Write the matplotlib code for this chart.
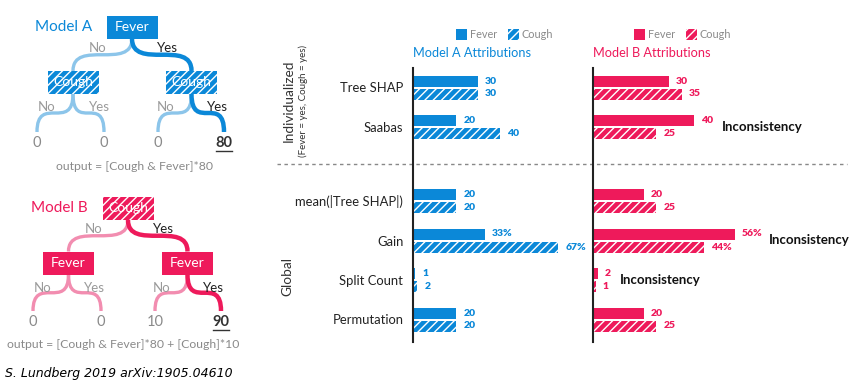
import numpy as np
import matplotlib
matplotlib.use('Agg')
import matplotlib.pyplot as plt
from matplotlib.patches import Rectangle
from matplotlib.path import Path
from matplotlib.patches import PathPatch

plt.rcParams['font.family'] = ['Lato', 'DejaVu Sans']
plt.rcParams['hatch.linewidth'] = 1.0

# ---- data ----
methods = ['Tree SHAP', 'Saabas', 'mean(|Tree SHAP|)', 'Gain', 'Split Count', 'Permutation']
a_fever = [30, 20, 20, 33, 1, 20]
a_cough = [30, 40, 20, 67, 2, 20]
b_fever = [30, 40, 20, 56, 2, 20]
b_cough = [35, 25, 25, 44, 1, 25]
suffix = ['', '', '', '%', '', '']
inconsistent = ['Saabas', 'Gain', 'Split Count']
leaves_a = ['0', '0', '0', '80']
leaves_b = ['0', '0', '10', '90']

BLUE = '#0b88d8'
PINK = '#ee1a5b'
LBLUE = '#8cc5ea'
LPINK = '#f28db0'
W, H = 858, 388

fig = plt.figure(figsize=(W / 100, H / 100), dpi=100)
ov = fig.add_axes([0, 0, 1, 1])
ov.set_xlim(0, W)
ov.set_ylim(H, 0)
ov.axis('off')


def box(x, y, w, h, color, label, hatched):
    if hatched:
        ov.add_patch(Rectangle((x - w / 2, y - h / 2), w, h, facecolor=color,
                               edgecolor='white', hatch='////', lw=0, zorder=3))
    else:
        ov.add_patch(Rectangle((x - w / 2, y - h / 2), w, h, facecolor=color,
                               lw=0, zorder=3))
    ov.text(x, y, label, color='white', fontsize=10, ha='center', va='center', zorder=4)


def branch(p, c, color, lw):
    # S-shaped connector: leaves vertically, turns horizontal, enters vertically
    px, py = p
    cx, cy = c
    d = cy - py
    verts = [(px, py), (px, py + d), (cx, py), (cx, cy)]
    codes = [Path.MOVETO, Path.CURVE4, Path.CURVE4, Path.CURVE4]
    ov.add_patch(PathPatch(Path(verts, codes), facecolor='none', edgecolor=color,
                           lw=lw, capstyle='butt', zorder=2))


def tree(title, root, kids, leafx, leafy, leaves, col, lcol, hatch_root, out_xy, formula):
    rx, ry = root
    bw, bh = 51, 23
    ov.text(rx - 97, ry, title, color=col, fontsize=11, va='center')
    box(rx, ry, bw, bh, col, 'Cough' if hatch_root else 'Fever', hatch_root)
    for i, (kx, ky) in enumerate(kids):
        dark = i == 1
        branch((rx, ry + bh / 2), (kx, ky - bh / 2), col if dark else lcol,
               3.2 if dark else 2.4)
        box(kx, ky, bw, bh, col, 'Fever' if hatch_root else 'Cough', not hatch_root)
        for j in range(2):
            lx = leafx[2 * i + j]
            d2 = dark and j == 1
            branch((kx, ky + bh / 2), (lx, leafy), col if d2 else lcol,
                   3.2 if d2 else 2.4)
            txt = leaves[2 * i + j]
            ov.text(lx, leafy + 11, txt, ha='center', va='center', fontsize=10.5,
                    color='#333333' if d2 else '#8a8a8a',
                    fontweight='bold' if d2 else 'normal')
            if d2:
                ov.plot([lx - 8, lx + 8], [leafy + 19, leafy + 19], color='#333333', lw=1)
        ov.text(kx - 26, ky + 24.5, 'No', ha='center', va='center', fontsize=9.5, color='#9a9a9a')
        ov.text(kx + 26, ky + 24.5, 'Yes', ha='center', va='center', fontsize=9.5,
                color='#222222' if dark else '#9a9a9a')
    ov.text(rx - 34, ry + 20.5, 'No', ha='center', va='center', fontsize=9.5, color='#9a9a9a')
    ov.text(rx + 35, ry + 20.5, 'Yes', ha='center', va='center', fontsize=9.5, color='#222222')
    ov.text(out_xy[0], out_xy[1], formula, ha='center', va='center', fontsize=8.8,
            color='#8a8a8a')


tree('Model A', (132, 27), [(73, 82.5), (191.5, 82.5)], [37, 104, 158, 224], 132,
     leaves_a, BLUE, LBLUE, False, (135, 166), 'output = [Cough & Fever]*80')
tree('Model B', (128, 208.5), [(68.5, 263), (187.5, 263)], [33, 101, 155, 221], 311,
     leaves_b, PINK, LPINK, True, (123, 345), 'output = [Cough & Fever]*80 + [Cough]*10')

ov.text(5, 373, 'S. Lundberg 2019 arXiv:1905.04610', fontsize=9, style='italic',
        family='DejaVu Sans', va='center', color='black')

# ---- bar panels ----
idx = np.arange(len(methods))
centers = 87.5 + 39.5 * idx + 34.5 * (idx >= 2)
top, bot = 68, 342


def panel(x0, width, scale, fever, cough, col, title, legx, mark):
    ax = fig.add_axes([x0 / W, 1 - bot / H, width / W, (bot - top) / H])
    ax.set_xlim(0, width / scale)
    ax.set_ylim(bot, top)
    ax.barh(centers - 6.5, fever, height=11, color=col, lw=0)
    ax.barh(centers + 6.5, cough, height=11, color=col, edgecolor='white', hatch='////', lw=0)
    for i in idx:
        ax.annotate(f'{fever[i]}{suffix[i]}', (fever[i], centers[i] - 6.5), xytext=(7, 0),
                    textcoords='offset pixels', va='center', fontsize=7.5, fontweight='heavy',
                    color=col, annotation_clip=False)
        ax.annotate(f'{cough[i]}{suffix[i]}', (cough[i], centers[i] + 6.5), xytext=(7, 0),
                    textcoords='offset pixels', va='center', fontsize=7.5, fontweight='heavy',
                    color=col, annotation_clip=False)
        if mark and methods[i] in inconsistent:
            m = max(fever[i], cough[i])
            lab = f'{m}{suffix[i]}'
            ax.annotate('Inconsistency', (m, centers[i]), xytext=(16 + 6 * len(lab), 0),
                        textcoords='offset pixels', va='center', fontsize=9.5,
                        fontweight='bold', color='#111111', annotation_clip=False)
    for s in ['top', 'right', 'bottom']:
        ax.spines[s].set_visible(False)
    ax.spines['left'].set_linewidth(1.5)
    ax.spines['left'].set_color('#222222')
    ax.set_xticks([])
    ax.patch.set_alpha(0)
    ov.text(x0, 53, title, color=col, fontsize=9.2, va='center')
    ov.add_patch(Rectangle((legx, 29), 11, 11, facecolor=col, lw=0))
    ov.text(legx + 14, 34.5, 'Fever', color='#8a8a8a', fontsize=7.8, va='center')
    ov.add_patch(Rectangle((legx + 52, 29), 11, 11, facecolor=col, edgecolor='white',
                           hatch='////', lw=0))
    ov.text(legx + 66, 34.5, 'Cough', color='#8a8a8a', fontsize=7.8, va='center')
    return ax


ax_a = panel(413, 160, 2.17, a_fever, a_cough, BLUE, 'Model A Attributions', 456, False)
ax_a.set_yticks(centers, methods)
ax_a.tick_params(axis='y', length=0, pad=7, labelsize=9.4, labelcolor='#222222')
ax_b = panel(593, 257, 2.53, b_fever, b_cough, PINK, 'Model B Attributions', 634, True)
ax_b.set_yticks([])

ov.plot([277, 847], [163.5, 163.5], color='#888888', lw=1, ls=(0, (2.5, 2.5)))
ov.text(289, 101, 'Individualized', rotation=90, ha='center', va='center',
        fontsize=9.8, color='#333333')
ov.text(303, 101, '(Fever = yes, Cough = yes)', rotation=90, ha='center', va='center',
        fontsize=7, color='#333333')
ov.text(287, 277, 'Global', rotation=90, ha='center', va='center', fontsize=9.8, color='#333333')

fig.savefig('out.png', dpi=100)
